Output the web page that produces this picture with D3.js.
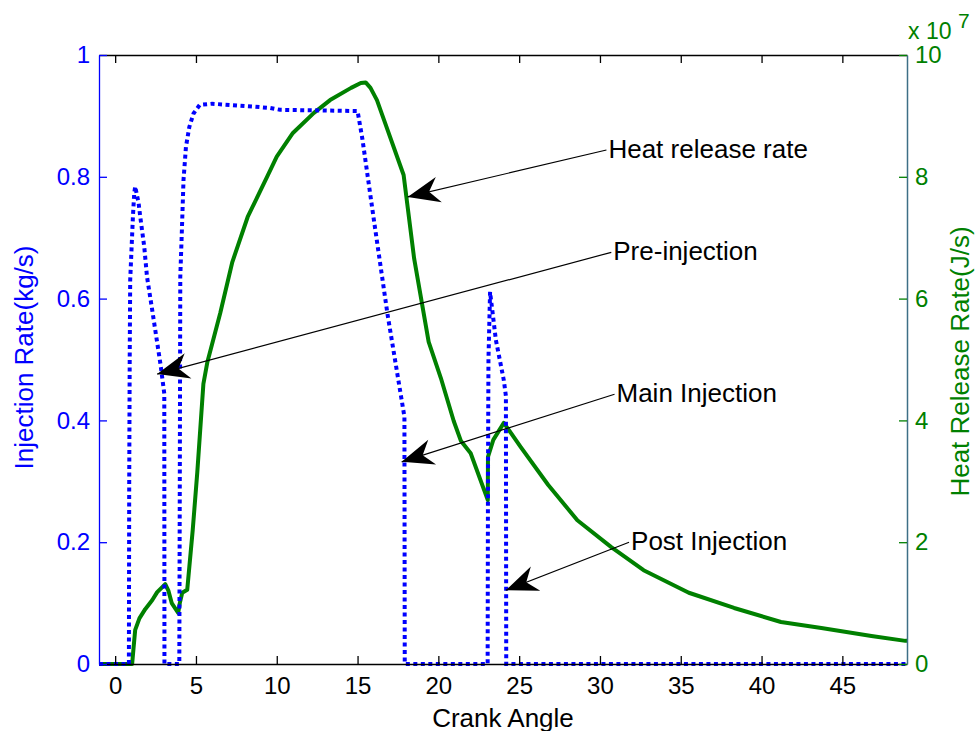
<!DOCTYPE html>
<html>
<head>
<meta charset="utf-8">
<script src="https://cdn.jsdelivr.net/npm/d3@7"></script>
<style>
  body { margin: 0; background: #fff; }
  svg { font-family: "Liberation Sans", Arial, sans-serif; }
</style>
</head>
<body>
<svg id="plot" width="976" height="731"></svg>
<script>
// crank angle (deg) and injection rate (kg/s)
const INJ_ANGLE = [-1, 0.85, 0.87, 0.9, 0.93, 1.1, 1.18, 1.24, 1.45, 1.55, 1.8, 1.97, 2.3, 2.8, 3.04, 3.05,
  3.95, 3.97, 4.0, 4.03, 4.13, 4.23, 4.38, 4.59, 4.85, 5.23, 6.0, 8.2, 9.6, 10.2, 15.0,
  15.3, 16.0, 16.85, 17.7, 17.9, 17.92, 23.05, 23.07, 23.1, 23.2, 23.56, 24.05, 24.18, 24.2, 49];
const INJ_RATE = [0, 0, 0.3, 0.5, 0.63, 0.735, 0.773, 0.784, 0.757, 0.735, 0.685, 0.636, 0.58, 0.493, 0.444, 0,
  0, 0, 0.3, 0.636, 0.713, 0.795, 0.849, 0.882, 0.904, 0.918, 0.92, 0.916, 0.913, 0.91, 0.908,
  0.862, 0.731, 0.575, 0.438, 0.406, 0, 0, 0.3, 0.5, 0.611, 0.532, 0.466, 0.44, 0, 0];

// crank angle (deg) and heat release rate (x 1e7 J/s)
const HRR_ANGLE = [-1, 1.05, 1.15, 1.24, 1.5, 1.86, 2.3, 2.6, 3.1, 3.3, 3.5, 3.9, 4.0, 4.15, 4.46, 4.8, 5.08,
  5.46, 5.7, 6.5, 7.25, 8.2, 9.4, 10.0, 11.0, 12.3, 13.3, 14.6, 15.2, 15.5, 15.8, 16.2, 16.63,
  17.85, 18.5, 19.4, 20.15, 20.95, 21.4, 22.0, 23.06, 23.07, 23.4, 24.05, 25.1, 26.8, 28.6,
  30.7, 32.7, 35.5, 38.3, 41.2, 43.7, 46.8, 48.9, 49];
const HRR = [0, 0, 0.3, 0.56, 0.75, 0.9, 1.05, 1.18, 1.31, 1.2, 1.0, 0.84, 1.0, 1.17, 1.22, 2.2, 3.14,
  4.6, 4.95, 5.76, 6.6, 7.34, 8.0, 8.33, 8.72, 9.05, 9.26, 9.46, 9.54, 9.55, 9.46, 9.26, 8.94,
  8.03, 6.66, 5.29, 4.7, 3.99, 3.66, 3.46, 2.69, 3.4, 3.68, 3.96, 3.56, 2.94, 2.36,
  1.92, 1.54, 1.17, 0.92, 0.69, 0.59, 0.46, 0.38, 0.38];

const X_TICKS = [0, 5, 10, 15, 20, 25, 30, 35, 40, 45];
const LEFT_TICKS = [0, 0.2, 0.4, 0.6, 0.8, 1];
const RIGHT_TICKS = [0, 2, 4, 6, 8, 10];

// annotations: text, text anchor point (data coords), arrow tip (data coords on left axis)
const NOTE_TEXT = ['Heat release rate', 'Pre-injection', 'Main Injection', 'Post Injection'];
const NOTE_FROM = [[30.4, 0.844], [30.7, 0.676], [30.9, 0.443], [31.8, 0.2]];
const NOTE_TO = [[18.1, 0.767], [2.6, 0.476], [17.73, 0.332], [24.17, 0.121]];

const BLUE = '#0000ff', GREEN = '#008000';
const M = { left: 99, right: 907, top: 55, bottom: 664 };

const svg = d3.select('#plot');

const x = d3.scaleLinear().domain([-1, 49]).range([M.left, M.right]);
const yL = d3.scaleLinear().domain([0, 1]).range([M.bottom, M.top]);
const yR = d3.scaleLinear().domain([0, 10]).range([M.bottom, M.top]);

// data lines
const injLine = d3.line().x(d => x(d[0])).y(d => yL(d[1]));
const hrrLine = d3.line().x(d => x(d[0])).y(d => yR(d[1]));

svg.append('path')
  .datum(HRR_ANGLE.map((a, i) => [a, HRR[i]]))
  .attr('d', hrrLine)
  .attr('fill', 'none')
  .attr('stroke', GREEN)
  .attr('stroke-width', 4)
  .attr('stroke-linejoin', 'round');

svg.append('path')
  .datum(INJ_ANGLE.map((a, i) => [a, INJ_RATE[i]]))
  .attr('d', injLine)
  .attr('fill', 'none')
  .attr('stroke', BLUE)
  .attr('stroke-width', 4)
  .attr('stroke-dasharray', '4,3.5');

// axes
const tickSize = 8;
const bottomAxis = svg.append('g').attr('transform', `translate(0,${M.bottom})`)
  .call(d3.axisBottom(x).tickValues(X_TICKS).tickSizeInner(-tickSize).tickSizeOuter(0).tickPadding(13));
const topAxis = svg.append('g').attr('transform', `translate(0,${M.top})`)
  .call(d3.axisTop(x).tickValues(X_TICKS).tickSizeInner(-tickSize).tickSizeOuter(0).tickFormat(''));
[bottomAxis, topAxis].forEach(g => {
  g.selectAll('path, line').attr('stroke', '#000').attr('stroke-width', 1.3);
  g.selectAll('text').attr('fill', '#000').style('font-size', '24px');
});

const leftAxis = svg.append('g').attr('transform', `translate(${M.left},0)`)
  .call(d3.axisLeft(yL).tickValues(LEFT_TICKS).tickFormat(d3.format('~g'))
    .tickSizeInner(-tickSize).tickSizeOuter(0).tickPadding(9));
leftAxis.selectAll('path, line').attr('stroke', BLUE).attr('stroke-width', 1.3);
leftAxis.selectAll('text').attr('fill', BLUE).style('font-size', '24px');

const rightAxis = svg.append('g').attr('transform', `translate(${M.right},0)`)
  .call(d3.axisRight(yR).tickValues(RIGHT_TICKS).tickSizeInner(-tickSize).tickSizeOuter(0).tickPadding(8));
rightAxis.selectAll('line').attr('stroke', GREEN).attr('stroke-width', 1.3);
rightAxis.select('path').attr('stroke', '#3d6f86').attr('stroke-width', 1.5);
rightAxis.selectAll('text').attr('fill', GREEN).style('font-size', '24px');
svg.selectAll('.domain').attr('fill', 'none');

// exponent
svg.append('text').attr('x', 908).attr('y', 39).attr('fill', GREEN)
  .style('font-size', '23px').text('x 10');
svg.append('text').attr('x', 958).attr('y', 28).attr('fill', GREEN)
  .style('font-size', '21px').text('7');

// axis labels
svg.append('text')
  .attr('transform', `translate(33,${(M.top + M.bottom) / 2 - 2}) rotate(-90)`)
  .attr('text-anchor', 'middle').attr('fill', BLUE).style('font-size', '26px')
  .text('Injection Rate(kg/s)');
svg.append('text')
  .attr('transform', `translate(969,${(M.top + M.bottom) / 2 + 2}) rotate(-90)`)
  .attr('text-anchor', 'middle').attr('fill', GREEN).style('font-size', '26px')
  .text('Heat Release Rate(J/s)');
svg.append('text')
  .attr('x', (M.left + M.right) / 2).attr('y', 727)
  .attr('text-anchor', 'middle').attr('fill', '#000').style('font-size', '26px')
  .text('Crank Angle');

// annotations with arrows
const notes = svg.append('g');
NOTE_TEXT.forEach((t, i) => {
  const fx = x(NOTE_FROM[i][0]), fy = yL(NOTE_FROM[i][1]);
  const tx = x(NOTE_TO[i][0]), ty = yL(NOTE_TO[i][1]);
  const ang = Math.atan2(ty - fy, tx - fx) * 180 / Math.PI;
  notes.append('line')
    .attr('x1', fx).attr('y1', fy).attr('x2', tx).attr('y2', ty)
    .attr('stroke', '#000').attr('stroke-width', 1.2);
  notes.append('path')
    .attr('d', 'M0,0 L-32,-13 L-22,0 L-32,13 Z')
    .attr('transform', `translate(${tx},${ty}) rotate(${ang})`)
    .attr('fill', '#000');
  notes.append('text')
    .attr('x', fx + 2).attr('y', fy + 8)
    .attr('fill', '#000').style('font-size', '26px')
    .text(t);
});
</script>
</body>
</html>
